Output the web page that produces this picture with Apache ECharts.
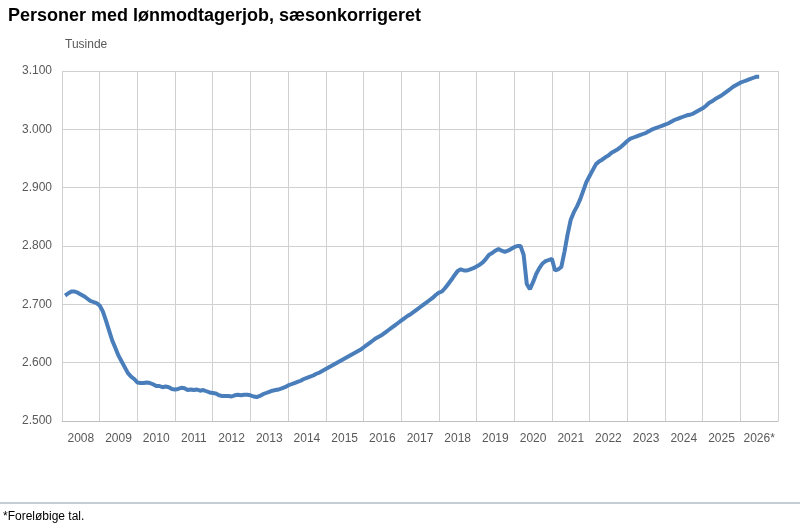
<!DOCTYPE html>
<html><head><meta charset="utf-8">
<script src="https://cdn.jsdelivr.net/npm/echarts@6/dist/echarts.min.js"></script>
<style>body{margin:0;background:#fff}#c{width:800px;height:527px}</style>
</head><body><div id="c"></div>
<script>
const startYear = 2008;
const yearLabels = ['2008','2009','2010','2011','2012','2013','2014','2015','2016','2017','2018','2019','2020','2021','2022','2023','2024','2025','2026*'];
const values = [
2715,2719,2722,2722,2720,2717,2714,2710,2706,2704,2702,2698,
2688,2672,2655,2638,2625,2612,2602,2592,2582,2576,2572,2566,
2565,2565,2566,2565,2563,2560,2560,2558,2559,2558,2555,2554,
2555,2557,2556,2553,2554,2553,2554,2552,2553,2551,2549,2548,
2547,2544,2543,2543,2543,2542,2544,2545,2544,2545,2545,2544,
2542,2541,2543,2546,2548,2550,2552,2553,2554,2556,2558,2561,
2563,2565,2567,2569,2572,2574,2576,2578,2581,2583,2586,2589,
2592,2595,2598,2601,2604,2607,2610,2613,2616,2619,2622,2626,
2630,2634,2638,2642,2645,2648,2652,2656,2660,2664,2668,2672,
2676,2680,2683,2687,2691,2695,2699,2703,2707,2711,2716,2720,
2722,2728,2735,2742,2750,2757,2760,2758,2758,2760,2762,2765,
2768,2772,2778,2785,2788,2792,2795,2792,2790,2792,2795,2798,
2800,2800,2785,2735,2726,2738,2752,2762,2770,2774,2776,2778,
2758,2760,2764,2790,2820,2845,2858,2868,2880,2895,2910,2920,
2930,2940,2945,2948,2952,2955,2960,2963,2966,2970,2975,2980,
2984,2986,2988,2990,2992,2994,2997,3000,3002,3004,3006,3008,
3010,3013,3016,3018,3020,3022,3024,3025,3027,3030,3033,3036,
3040,3045,3048,3052,3055,3058,3062,3066,3070,3074,3077,3080,
3082,3084,3086,3088,3090,3090];
const data = values.map((v,i)=>[startYear + i/12 + 1/12, v]);
const ch = echarts.init(document.getElementById('c'));
const F = 'Liberation Sans, Arial, sans-serif';
ch.setOption({
  animation:false,
  title:{text:'Personer med lønmodtagerjob, sæsonkorrigeret',left:3,top:2,textStyle:{fontFamily:F,fontSize:18,fontWeight:'bold',color:'#000'}},
  graphic:[
    {type:'text',left:65,top:39,style:{text:'Tusinde',font:'12px '+F,fill:'#595959'}},
    {type:'line',shape:{x1:0,y1:503,x2:800,y2:503},style:{stroke:'#8a9aab',lineWidth:1}},
    {type:'text',left:3,top:511,style:{text:'*Foreløbige tal.',font:'12px '+F,fill:'#000'}}
  ],
  grid:{left:62,right:22,top:71,bottom:106},
  xAxis:[
    {type:'value',min:2008,max:2027,interval:1,axisLabel:{show:false},axisTick:{show:false},
     axisLine:{lineStyle:{color:'#bfbfbf'}},splitLine:{lineStyle:{color:'#d0d0d0'}}},
    {type:'category',position:'bottom',data:yearLabels,boundaryGap:true,axisLine:{show:false},axisTick:{show:false},
     axisLabel:{interval:0,color:'#595959',fontFamily:F,fontSize:12,margin:12}}
  ],
  yAxis:{type:'value',min:2500,max:3100,interval:100,axisLine:{show:false},axisTick:{show:false},
    splitLine:{lineStyle:{color:'#d0d0d0'}},
    axisLabel:{color:'#595959',fontFamily:F,fontSize:12,margin:10,formatter:v=>String(v).replace(/(\d)(\d{3})$/,'$1.$2')}},
  series:[{type:'line',xAxisIndex:0,data:data,showSymbol:false,smooth:false,lineStyle:{color:'#4a7ebb',width:4},itemStyle:{color:'#4a7ebb'}}]
});
</script></body></html>
